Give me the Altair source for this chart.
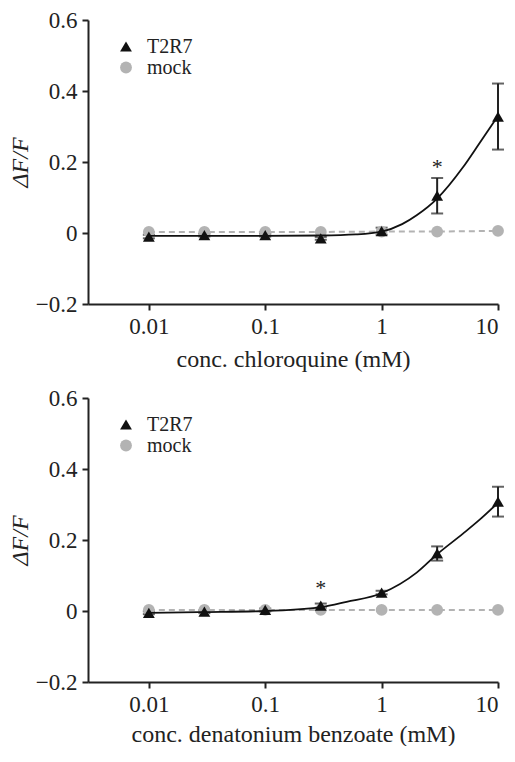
import altair as alt
import pandas as pd

conc = [0.01, 0.03, 0.1, 0.3, 1, 3, 10]
series_names = ["T2R7", "mock"]

# chloroquine panel
chloro_t2r7 = [-0.010, -0.006, -0.006, -0.015, 0.005, 0.105, 0.328]
chloro_err = [0.005, 0.004, 0.004, 0.004, 0.010, 0.050, 0.093]
chloro_mock = [0.003, 0.003, 0.003, 0.003, 0.004, 0.004, 0.006]
chloro_fit_x = [0.01, 0.1, 0.3, 0.6, 1, 1.5, 2, 3, 5, 7, 10]
chloro_fit_y = [-0.008, -0.008, -0.007, -0.004, 0.004, 0.025, 0.05, 0.097, 0.185, 0.255, 0.33]
chloro_star = (3, 0.187)

# denatonium benzoate panel
denat_t2r7 = [-0.005, -0.002, 0.003, 0.015, 0.052, 0.162, 0.308]
denat_err = [0.004, 0.004, 0.004, 0.006, 0.005, 0.020, 0.042]
denat_mock = [0.003, 0.003, 0.003, 0.003, 0.003, 0.003, 0.003]
denat_fit_x = [0.01, 0.03, 0.1, 0.3, 0.5, 1, 2, 3, 5, 7, 10]
denat_fit_y = [-0.005, -0.003, 0.0, 0.011, 0.026, 0.05, 0.108, 0.16, 0.218, 0.258, 0.305]
denat_star = (0.3, 0.065)

x_ticks = [0.01, 0.1, 1, 10]
y_ticks = [-0.2, 0, 0.2, 0.4, 0.6]

FONT = "Liberation Serif"
INK = "#222222"
GREY = "#b3b3b3"
W, H = 410, 284


def make_legend():
    return alt.Legend(orient="none", legendX=28, legendY=18, title=None,
                      labelFont=FONT, labelFontSize=20, labelColor=INK,
                      symbolSize=140, rowPadding=0, clipHeight=17, labelOffset=11, padding=0)


def panel(t2r7, err, mock, fit_x, fit_y, star, xtitle, title_pad):
    pts = pd.DataFrame({
        "conc": conc + conc,
        "value": t2r7 + mock,
        "series": [series_names[0]] * len(conc) + [series_names[1]] * len(conc),
    })
    eb = pd.DataFrame({
        "conc": conc,
        "lo": [v - e for v, e in zip(t2r7, err)],
        "hi": [v + e for v, e in zip(t2r7, err)],
    })
    mk = pd.DataFrame({"conc": conc, "value": mock})
    fit = pd.DataFrame({"conc": fit_x, "value": fit_y})
    st = pd.DataFrame({"conc": [star[0]], "value": [star[1]], "t": ["*"]})

    xs = alt.Scale(type="log", domain=[0.003, 10], nice=False)
    ys = alt.Scale(domain=[-0.2, 0.6], nice=False, zero=False)
    xax = alt.Axis(values=x_ticks, format="~g", title=xtitle, labelPadding=5, titlePadding=title_pad)
    yax = alt.Axis(values=y_ticks, format=".1~f", title="ΔF/F", titleFontStyle="italic",
                   labelPadding=5, titleX=-56, titleY=H / 2)
    X = alt.X("conc:Q", scale=xs, axis=xax)

    def Y(f):
        return alt.Y(f, scale=ys, axis=yax)

    rules = alt.Chart(eb).mark_rule(color=INK, strokeWidth=2).encode(x=X, y=Y("lo:Q"), y2="hi:Q")
    cap_lo = alt.Chart(eb).mark_tick(orient="horizontal", size=12, thickness=2, color=INK).encode(x=X, y=Y("lo:Q"))
    cap_hi = alt.Chart(eb).mark_tick(orient="horizontal", size=12, thickness=2, color=INK).encode(x=X, y=Y("hi:Q"))
    mock_line = alt.Chart(mk).mark_line(color=GREY, strokeWidth=2, strokeDash=[6, 4]).encode(x=X, y=Y("value:Q"))
    points = alt.Chart(pts).mark_point(filled=True, size=140, opacity=1).encode(
        x=X,
        y=Y("value:Q"),
        color=alt.Color("series:N", scale=alt.Scale(domain=series_names, range=["#111111", GREY]),
                        legend=make_legend()),
        shape=alt.Shape("series:N", scale=alt.Scale(domain=series_names, range=["triangle-up", "circle"]),
                        legend=make_legend()),
        order=alt.Order("series:N", sort="descending"),
    )
    fit_line = alt.Chart(fit).mark_line(color="#111111", strokeWidth=1.8, interpolate="monotone").encode(
        x=X, y=Y("value:Q"))
    star_t = alt.Chart(st).mark_text(font=FONT, fontSize=22, color=INK, baseline="middle").encode(
        x=X, y=Y("value:Q"), text="t:N")
    return alt.layer(rules, cap_lo, cap_hi, mock_line, points, fit_line, star_t).properties(width=W, height=H)


top = panel(chloro_t2r7, chloro_err, chloro_mock, chloro_fit_x, chloro_fit_y, chloro_star,
            "conc. chloroquine (mM)", 9)
bottom = panel(denat_t2r7, denat_err, denat_mock, denat_fit_x, denat_fit_y, denat_star,
               "conc. denatonium benzoate (mM)", 6)

chart = alt.vconcat(top, bottom, spacing=16).resolve_legend(
    color="independent", shape="independent"
).properties(
    padding={"left": 0, "top": 1, "right": 0, "bottom": 0}
).configure_view(stroke=None).configure_axis(
    grid=False, domainColor=INK, domainWidth=2, tickColor=INK, tickWidth=2, tickSize=6,
    labelFont=FONT, labelFontSize=23, labelColor=INK,
    titleFont=FONT, titleFontSize=24, titleFontWeight="normal", titleColor=INK,
)

chart.save("out.html", embed_options={"renderer": "svg", "actions": False})
